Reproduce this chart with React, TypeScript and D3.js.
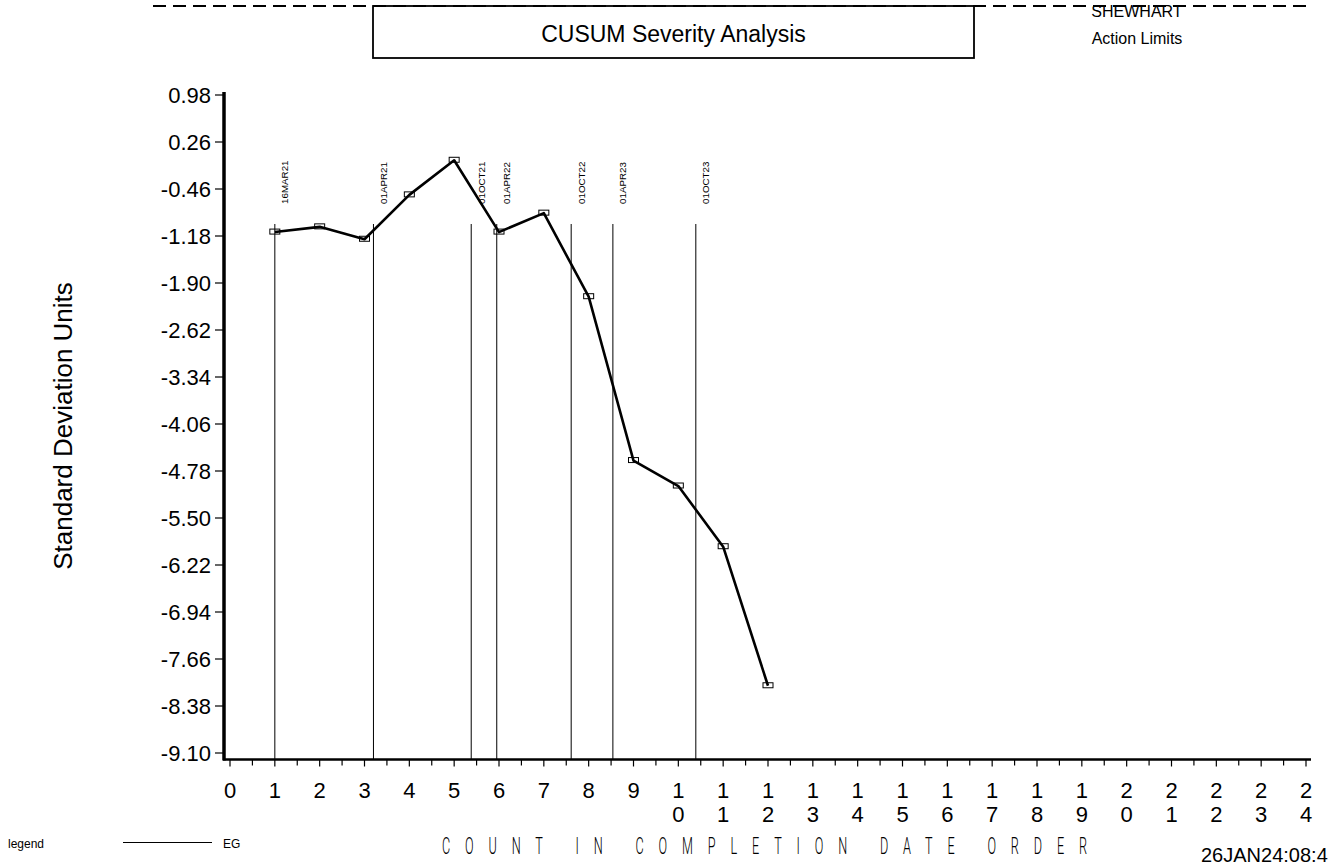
import * as d3 from 'd3';

// ─── Data ───────────────────────────────────────────────────

const counts = [1, 2, 3, 4, 5, 6, 7, 8, 9, 10, 11, 12];
const cusum = [-1.12, -1.04, -1.23, -0.55, -0.02, -1.12, -0.83, -2.11, -4.62, -5.01, -5.94, -8.07];

const yTickLabels = ['0.98', '0.26', '-0.46', '-1.18', '-1.90', '-2.62', '-3.34', '-4.06', '-4.78', '-5.50', '-6.22', '-6.94', '-7.66', '-8.38', '-9.10'];
const xTicks = d3.range(0, 25);

const dateLabels = ['16MAR21', '01APR21', '01OCT21', '01APR22', '01OCT22', '01APR23', '01OCT23'];
const datePositions = [1.0, 3.2, 5.38, 5.95, 7.61, 8.54, 10.39];

// ─── Component ──────────────────────────────────────────────

const W = 1330;
const H = 867;
const sans = 'Liberation Sans, Arial, Helvetica, sans-serif';

export default function App() {
  const x = d3.scaleLinear().domain([0, 24]).range([230, 1306]);
  const y = d3.scaleLinear().domain([0.98, -9.10]).range([95, 753]);

  const axisY = 759.5;
  const axisX = 224;
  const dateTop = 224;

  const line = d3.line<number>()
    .x((_, i) => x(counts[i]))
    .y((d) => y(d));

  const minorTicks = d3.range(0.5, 24, 1);

  // condensed look for the x axis title
  const sx = 0.55;

  return (
    <div style={{ position: 'absolute', left: 0, top: 0 }}>
      <svg width={W} height={H} style={{ display: 'block', background: '#fff' }} fontFamily={sans}>
        {/* dashed Shewhart action limit */}
        <line x1={153} x2={1312} y1={6} y2={6} stroke="#000" strokeWidth={2} strokeDasharray="13 7" />

        {/* title box */}
        <rect x={373} y={6} width={601} height={52} fill="none" stroke="#000" strokeWidth={1.8} />
        <text x={673.5} y={41.5} textAnchor="middle" fontSize={23}>CUSUM Severity Analysis</text>

        <text x={1137} y={16.5} textAnchor="middle" fontSize={16}>SHEWHART</text>
        <text x={1137} y={44.3} textAnchor="middle" fontSize={16}>Action Limits</text>

        {/* y axis title */}
        <text transform={`translate(72,${426}) rotate(-90)`} textAnchor="middle" fontSize={26}>
          Standard Deviation Units
        </text>

        {/* date reference lines */}
        {datePositions.map((p, i) => (
          <g key={dateLabels[i]}>
            <line x1={x(p)} x2={x(p)} y1={dateTop} y2={axisY} stroke="#000" strokeWidth={1} />
            <text transform={`translate(${x(p) + 13.5},204) rotate(-90)`} fontSize={9.8}>
              {dateLabels[i]}
            </text>
          </g>
        ))}

        {/* y axis */}
        <line x1={axisX} x2={axisX} y1={92} y2={axisY + 1} stroke="#000" strokeWidth={3.5} />
        {yTickLabels.map((t) => {
          const v = +t;
          return (
            <g key={t}>
              <line x1={215} x2={axisX} y1={y(v)} y2={y(v)} stroke="#000" strokeWidth={1.2} />
              <text x={211} y={y(v) + 8} textAnchor="end" fontSize={22}>{t}</text>
            </g>
          );
        })}

        {/* x axis */}
        <line x1={axisX - 1} x2={1311} y1={axisY} y2={axisY} stroke="#000" strokeWidth={2.5} />
        {xTicks.map((t) => (
          <line key={'M' + t} x1={x(t)} x2={x(t)} y1={axisY} y2={axisY + 7} stroke="#000" strokeWidth={1.2} />
        ))}
        {minorTicks.map((t) => (
          <line key={'m' + t} x1={x(t)} x2={x(t)} y1={axisY} y2={axisY + 6} stroke="#000" strokeWidth={1.2} />
        ))}
        {xTicks.map((t) => {
          const s = String(t);
          return (
            <text key={'L' + t} x={x(t)} textAnchor="middle" fontSize={22}>
              {s.split('').map((c, j) => (
                <tspan key={j} x={x(t)} y={797.5 + j * 24.5}>{c}</tspan>
              ))}
            </text>
          );
        })}

        {/* CUSUM series */}
        <path d={line(cusum) ?? ''} fill="none" stroke="#000" strokeWidth={2.6} strokeLinejoin="round" />
        {cusum.map((d, i) => (
          <rect
            key={i}
            x={x(counts[i]) - 5}
            y={y(d) - 3}
            width={10}
            height={5}
            fill="none"
            stroke="#000"
            strokeWidth={1}
          />
        ))}

        {/* x axis title */}
        <text
          transform={`scale(${sx},1)`}
          x={442 / sx}
          y={854}
          fontSize={23}
          fontFamily="Roboto, sans-serif"
          fontWeight={300}
          textLength={645 / sx}
          lengthAdjust="spacing"
        >
          COUNT IN COMPLETION DATE ORDER
        </text>

        {/* legend */}
        <text x={8} y={848} fontSize={12}>legend</text>
        <line x1={123} x2={212} y1={842.5} y2={842.5} stroke="#000" strokeWidth={1} />
        <text x={223} y={848} fontSize={12}>EG</text>

        {/* timestamp */}
        <text x={1201} y={862} fontSize={20}>26JAN24:08:4</text>
      </svg>
    </div>
  );
}
